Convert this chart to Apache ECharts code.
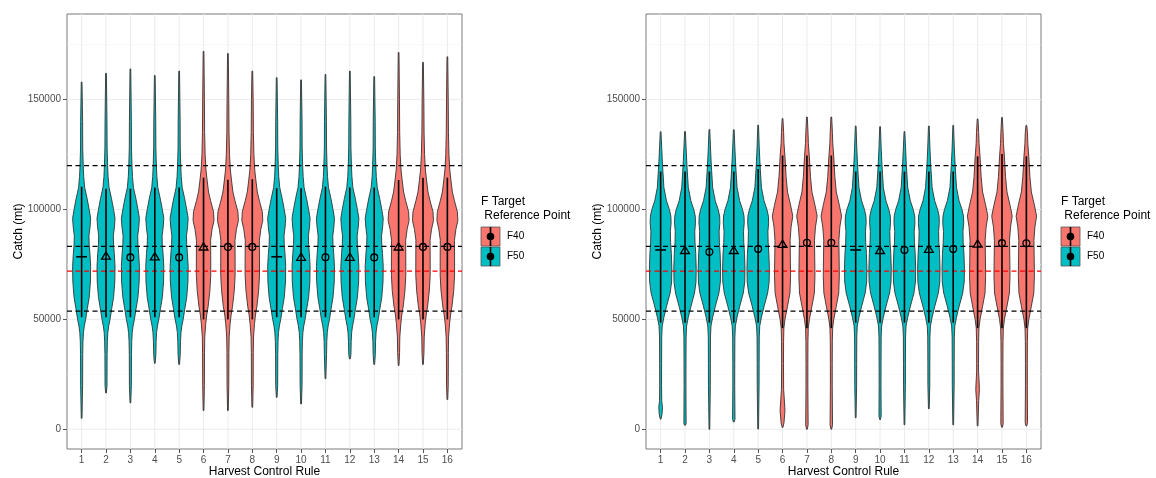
<!DOCTYPE html>
<html><head><meta charset="utf-8">
<script src="https://cdn.jsdelivr.net/npm/echarts@6/dist/echarts.min.js"></script>
<style>html,body{margin:0;padding:0;background:#fff}#c{width:1156px;height:478px}</style>
</head><body><div id="c"></div>
<script>
// ---------- DATA ----------
const hcrLabels = ['1','2','3','4','5','6','7','8','9','10','11','12','13','14','15','16'];
const hcrPos = [1,2,3,4,5,6,7,8,9,10,11,12,13,14,15,16];
const groups = ['F50','F50','F50','F50','F50','F40','F40','F40','F50','F50','F50','F50','F50','F40','F40','F40'];
const shapes = ['dash','triangle','circle','triangle','circle','triangle','circle','circle','dash','triangle','circle','triangle','circle','triangle','circle','circle'];
const yTickValues = [0, 50000, 100000, 150000];
const yTickLabels = ['0', '50000', '100000', '150000'];
const yMinorValues = [25000, 75000, 125000, 175000];
const refLineValues = [120000, 83200, 72000, 53800];
const refLineColors = ['#000000', '#000000', '#FF0000', '#000000'];

// Left panel
const maxA = [158000,162000,164000,161000,163000,172000,171000,163000,160000,159000,161500,163000,160500,171500,167000,169500];
const minA = [5000,16500,12000,30000,29500,8500,8500,10000,14500,11500,23000,32000,29500,29000,29500,13500];
const pointA = [78500,78800,78200,78500,78200,83000,83000,83000,78500,78300,78300,78300,78200,83000,83000,83000];
const hiA = [110400,109500,109500,110000,110000,114500,113500,113800,109700,109700,110400,110000,110000,113400,114500,114500];
const loA = [51000,51000,51000,51000,51000,50000,50000,50000,51000,51000,51000,51000,51000,50000,50000,50000];
// violin profiles [catch, half width in HCR units]
const profileA_F50 = [[140000,0.04],[128000,0.045],[120000,0.065],[115000,0.085],[110000,0.125],[105000,0.225],[100000,0.31],[96000,0.37],[92000,0.345],[88000,0.3],[84000,0.31],[80000,0.34],[74000,0.37],[67000,0.36],[60000,0.31],[55000,0.235],[50000,0.165],[47000,0.11],[44000,0.075],[40000,0.055],[34000,0.045],[20000,0.04]];
const profileA_F40 = [[150000,0.035],[135000,0.045],[125000,0.065],[118000,0.1],[113000,0.15],[108000,0.205],[104000,0.29],[99000,0.41],[95000,0.43],[91000,0.35],[86000,0.29],[78000,0.295],[70000,0.295],[63000,0.26],[56000,0.19],[52000,0.13],[48000,0.09],[42000,0.05],[35000,0.04],[20000,0.035]];

// Right panel
const maxB = [135400,135500,136400,136300,138400,141400,142100,142100,138000,137700,135500,138000,138300,141200,141900,138300];
const minB = [4600,1800,0,3300,100,800,0,0,5200,4400,2000,9300,2000,1500,900,1500];
const pointB = [81600,81400,80700,81400,82000,84200,84900,84900,81600,81400,81600,81900,82000,84300,84700,84600];
const hiB = [117300,117300,117300,117300,118400,124600,124600,124600,117300,117300,117300,117300,117300,124200,125300,124200];
const loB = [48500,48500,48500,48500,48500,46000,46000,46000,48500,48500,48500,48500,48500,46000,46000,46000];
const profileB_F50 = [[128000,0.045],[122000,0.07],[118000,0.09],[110000,0.135],[104000,0.24],[100000,0.36],[97000,0.42],[94000,0.43],[90000,0.4],[85000,0.41],[80000,0.44],[73000,0.46],[67000,0.45],[62000,0.39],[56000,0.245],[51000,0.135],[47000,0.065],[42000,0.045],[30000,0.04],[20000,0.038]];
const profileB_F40 = [[135000,0.045],[130000,0.06],[124000,0.1],[115000,0.145],[108000,0.205],[102000,0.33],[97000,0.42],[92000,0.35],[86000,0.31],[78000,0.32],[70000,0.33],[62000,0.305],[56000,0.205],[50000,0.1],[46000,0.055],[40000,0.042],[30000,0.038],[20000,0.038]];
const bumpsB = [
  [[7000,0.06],[10000,0.075],[13000,0.045]],
  [[2500,0.045]],
  [],
  [[4500,0.05]],
  [],
  [[3000,0.06],[8500,0.1],[14000,0.07],[18000,0.045]],
  [[2000,0.05]],
  [[2000,0.05]],
  [],
  [[6000,0.045]],
  [],
  [],
  [],
  [[13000,0.045],[18000,0.075],[22000,0.06],[26000,0.04]],
  [[2500,0.048]],
  [[3000,0.048]]
];

// ---------- STYLE ----------
const groupColors = {F40: '#F8766D', F50: '#00BFC4'};
const FONT = 'Liberation Sans, Arial, sans-serif';
const TIP = 0.015;

const panels = [
  {max: maxA, min: minA, point: pointA, hi: hiA, lo: loA, profiles: {F50: profileA_F50, F40: profileA_F40}, bumps: null},
  {max: maxB, min: minB, point: pointB, hi: hiB, lo: loB, profiles: {F50: profileB_F50, F40: profileB_F40}, bumps: bumpsB}
];

function violinRender(panel) {
  return function (params, api) {
    const i = api.value(2);
    const x = api.value(0);
    const g = groups[i];
    const prof = panel.profiles[g];
    const mn = panel.min[i], mx = panel.max[i];
    const bump = panel.bumps ? panel.bumps[i] : [];
    let bLo = Infinity, bHi = -Infinity;
    bump.forEach(p => { bLo = Math.min(bLo, p[0]); bHi = Math.max(bHi, p[0]); });
    const pts = [[mn, TIP]];
    bump.forEach(p => { if (p[0] > mn && p[0] < mx) pts.push(p); });
    prof.forEach(p => {
      if (p[0] > mn && p[0] < mx && !(p[0] >= bLo - 3000 && p[0] <= bHi + 3000)) pts.push(p);
    });
    pts.push([mx, TIP]);
    pts.sort((a, b) => a[0] - b[0]);
    const right = pts.map(p => api.coord([x + p[1], p[0]]));
    const left = pts.slice().reverse().map(p => api.coord([x - p[1], p[0]]));
    return {
      type: 'polygon',
      shape: {points: right.concat(left)},
      style: {fill: groupColors[g], stroke: '#333333', lineWidth: 0.9}
    };
  };
}

function pointRender(params, api) {
  const x = api.value(0);
  const i = api.value(4);
  const c = api.coord([x, api.value(1)]);
  const lo = api.coord([x, api.value(2)]);
  const hi = api.coord([x, api.value(3)]);
  const children = [{
    type: 'line', shape: {x1: lo[0], y1: lo[1], x2: hi[0], y2: hi[1]},
    style: {stroke: '#000', lineWidth: 1.6}
  }];
  const s = shapes[i];
  if (s === 'circle') {
    children.push({type: 'circle', shape: {cx: c[0], cy: c[1], r: 3.4},
      style: {fill: 'none', stroke: '#000', lineWidth: 1.3}});
  } else if (s === 'triangle') {
    children.push({type: 'polygon', shape: {points: [[c[0], c[1] - 4.2], [c[0] - 4.4, c[1] + 3.1], [c[0] + 4.4, c[1] + 3.1]]},
      style: {fill: 'none', stroke: '#000', lineWidth: 1.3}});
  } else {
    children.push({type: 'line', shape: {x1: c[0] - 5.4, y1: c[1], x2: c[0] + 5.4, y2: c[1]},
      style: {stroke: '#000', lineWidth: 1.6}});
  }
  return {type: 'group', children};
}

function gridRender(params, api) {
  const cs = params.coordSys;
  const kind = api.value(1); // 0 vertical, 1 major horizontal, 2 minor horizontal
  const v = api.value(0);
  if (kind === 0) {
    const p = api.coord([v, 0]);
    return {type: 'line', shape: {x1: p[0], y1: cs.y, x2: p[0], y2: cs.y + cs.height},
      style: {stroke: '#EBEBEB', lineWidth: 1}};
  }
  const p = api.coord([1, v]);
  return {type: 'line', shape: {x1: cs.x, y1: p[1], x2: cs.x + cs.width, y2: p[1]},
    style: {stroke: kind === 1 ? '#EBEBEB' : '#F3F3F3', lineWidth: kind === 1 ? 1 : 0.6}};
}

function refRender(params, api) {
  const cs = params.coordSys;
  const p = api.coord([1, api.value(0)]);
  return {type: 'line', shape: {x1: cs.x, y1: p[1], x2: cs.x + cs.width, y2: p[1]},
    style: {stroke: refLineColors[api.value(1)], lineWidth: 1.3, lineDash: [5, 3.5]}};
}

const gridData = [];
hcrPos.forEach(v => gridData.push([v, 0]));
yTickValues.forEach(v => gridData.push([v, 1]));
yMinorValues.forEach(v => gridData.push([v, 2]));

const gridLefts = [67, 646];
const series = [];
const xAxes = [], yAxes = [], grids = [];
panels.forEach((panel, k) => {
  grids.push({left: gridLefts[k], top: 14, width: 395, height: 435, show: true,
    outerBoundsMode: 'none', containLabel: false,
    borderColor: '#7A7A7A', borderWidth: 1, backgroundColor: '#fff'});
  xAxes.push({
    gridIndex: k, type: 'value', min: 0.4, max: 16.6,
    axisLine: {show: false, onZero: false},
    axisTick: {show: true, length: 4, lineStyle: {color: '#555'}, customValues: hcrPos},
    axisLabel: {customValues: hcrPos, formatter: v => hcrLabels[Math.round(v) - 1], color: '#4D4D4D', fontSize: 10, margin: 6, fontFamily: FONT},
    splitLine: {show: false},
    name: 'Harvest Control Rule', nameLocation: 'middle', nameGap: 17, nameMoveOverlap: false,
    nameTextStyle: {color: '#000', fontSize: 12, fontFamily: FONT}
  });
  yAxes.push({
    gridIndex: k, type: 'value', min: -9000, max: 189000,
    axisLine: {show: false, onZero: false},
    axisTick: {show: true, length: 4, lineStyle: {color: '#555'}, customValues: yTickValues},
    axisLabel: {customValues: yTickValues, formatter: v => yTickLabels[yTickValues.indexOf(v)], color: '#4D4D4D', fontSize: 10, margin: 6, fontFamily: FONT},
    splitLine: {show: false},
    name: 'Catch (mt)', nameLocation: 'middle', nameGap: 42, nameRotate: 90, nameMoveOverlap: false,
    nameTextStyle: {color: '#000', fontSize: 12, fontFamily: FONT}
  });
  series.push({type: 'custom', xAxisIndex: k, yAxisIndex: k, z: 1, silent: true,
    renderItem: gridRender, data: gridData, encode: {x: 0, y: 0}});
  series.push({type: 'custom', xAxisIndex: k, yAxisIndex: k, z: 2, silent: true,
    renderItem: violinRender(panel),
    data: hcrPos.map((x, i) => [x, panel.max[i], i]), encode: {x: 0, y: 1}});
  series.push({type: 'custom', xAxisIndex: k, yAxisIndex: k, z: 3, silent: true,
    renderItem: refRender,
    data: refLineValues.map((v, j) => [v, j]), encode: {y: 0}});
  series.push({type: 'custom', xAxisIndex: k, yAxisIndex: k, z: 4, silent: true,
    renderItem: pointRender,
    data: hcrPos.map((x, i) => [x, panel.point[i], panel.lo[i], panel.hi[i], i]), encode: {x: 0, y: 1}});
});

// legend graphics
const graphics = [];
[481, 1061].forEach(lx => {
  graphics.push({type: 'text', left: lx, top: 195, style: {text: 'F Target\n Reference Point', font: '12px ' + FONT, fill: '#000', lineHeight: 13.5}});
  ['F40', 'F50'].forEach((g, j) => {
    const ty = 227 + j * 20;
    graphics.push({type: 'rect', shape: {x: lx, y: ty, width: 19, height: 19}, style: {fill: groupColors[g], stroke: '#555', lineWidth: 0.8}});
    graphics.push({type: 'line', shape: {x1: lx + 9.5, y1: ty, x2: lx + 9.5, y2: ty + 19}, style: {stroke: '#000', lineWidth: 1.6}});
    graphics.push({type: 'circle', shape: {cx: lx + 9.5, cy: ty + 9.5, r: 3.8}, style: {fill: '#000'}});
    graphics.push({type: 'text', x: lx + 26, y: ty + 9.5, style: {text: g, font: '10px ' + FONT, fill: '#000', verticalAlign: 'middle'}});
  });
});

const chart = echarts.init(document.getElementById('c'), null, {renderer: 'canvas'});
chart.setOption({
  animation: false,
  backgroundColor: '#fff',
  grid: grids, xAxis: xAxes, yAxis: yAxes, series, graphic: graphics
});
</script></body></html>
